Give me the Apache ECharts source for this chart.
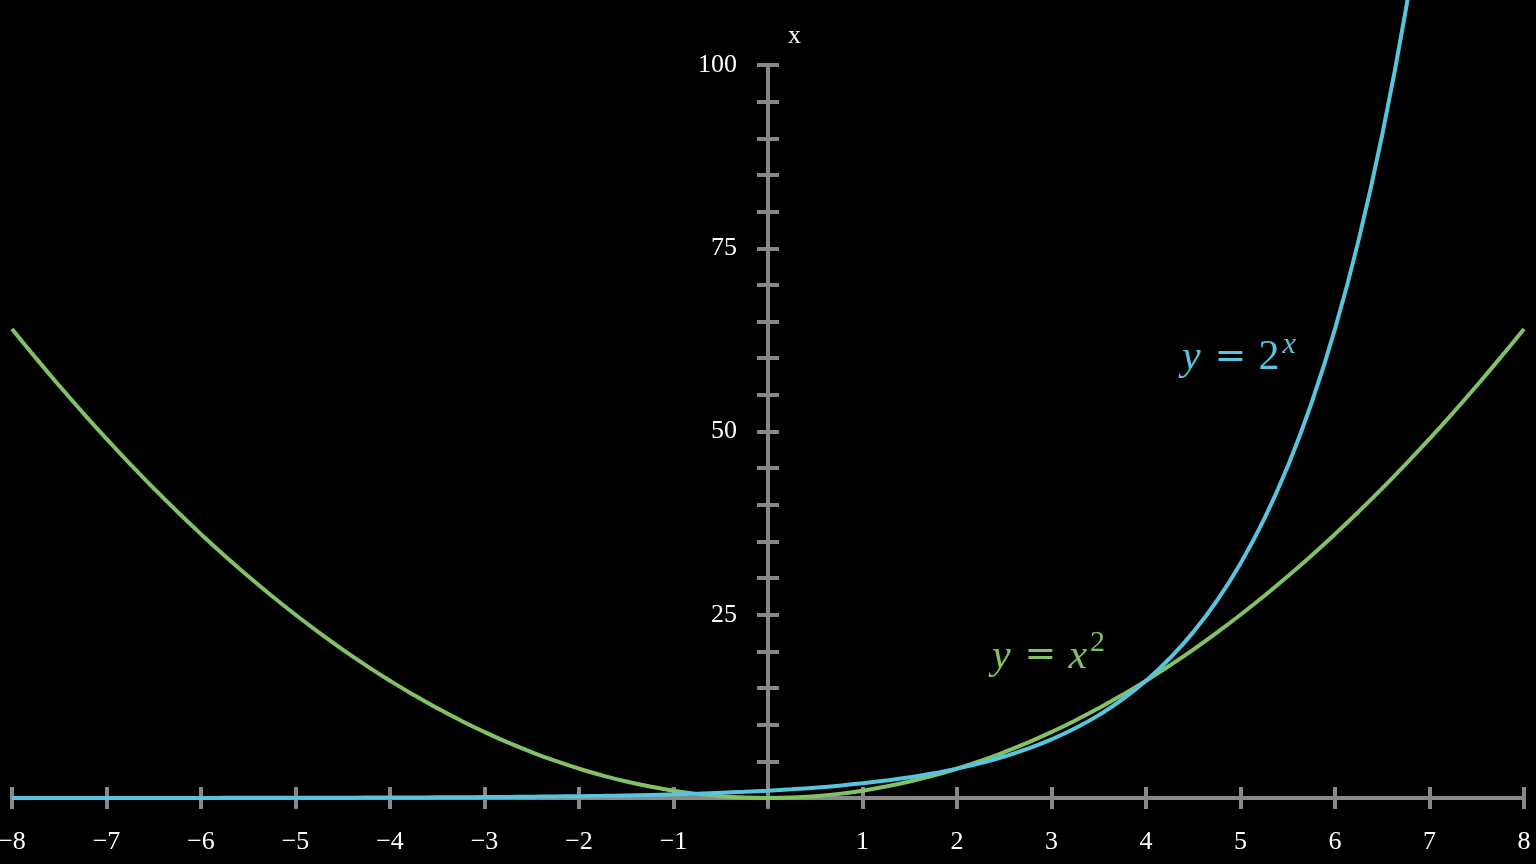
<!DOCTYPE html>
<html><head><meta charset="utf-8">
<script src="https://cdn.jsdelivr.net/npm/echarts@6/dist/echarts.min.js"></script>
<style>html,body{margin:0;padding:0;background:#000;}#c{width:1536px;height:864px;}</style>
</head><body><div id="c"></div>
<script>
const xValues = [-8,-7.75,-7.5,-7.25,-7,-6.75,-6.5,-6.25,-6,-5.75,-5.5,-5.25,-5,-4.75,-4.5,-4.25,-4,-3.75,-3.5,-3.25,-3,-2.75,-2.5,-2.25,-2,-1.75,-1.5,-1.25,-1,-0.75,-0.5,-0.25,0,0.25,0.5,0.75,1,1.25,1.5,1.75,2,2.25,2.5,2.75,3,3.25,3.5,3.75,4,4.25,4.5,4.75,5,5.25,5.5,5.75,6,6.25,6.5,6.75,7,7.25,7.5,7.75,8];
const squareValues = [64,60.0625,56.25,52.5625,49,45.5625,42.25,39.0625,36,33.0625,30.25,27.5625,25,22.5625,20.25,18.0625,16,14.0625,12.25,10.5625,9,7.5625,6.25,5.0625,4,3.0625,2.25,1.5625,1,0.5625,0.25,0.0625,0,0.0625,0.25,0.5625,1,1.5625,2.25,3.0625,4,5.0625,6.25,7.5625,9,10.5625,12.25,14.0625,16,18.0625,20.25,22.5625,25,27.5625,30.25,33.0625,36,39.0625,42.25,45.5625,49,52.5625,56.25,60.0625,64];
const expValues = [0.0039,0.0046,0.0055,0.0066,0.0078,0.0093,0.0110,0.0131,0.0156,0.0186,0.0221,0.0263,0.0313,0.0372,0.0442,0.0526,0.0625,0.0743,0.0884,0.1051,0.125,0.1487,0.1768,0.2102,0.25,0.2973,0.3536,0.4204,0.5,0.5946,0.7071,0.8409,1,1.189,1.414,1.682,2,2.378,2.828,3.364,4,4.757,5.657,6.727,8,9.514,11.31,13.45,16,19.03,22.63,26.91,32,38.05,45.25,53.82,64,76.11,90.51,107.6,128];
const xTickLabels = ['−8','−7','−6','−5','−4','−3','−2','−1','','1','2','3','4','5','6','7','8'];
const yTickLabels = {25:'25',50:'50',75:'75',100:'100'};

const AX = '#888888', BLUE = '#58C4DD', GREEN = '#83C167', SERIF = '"Liberation Serif","DejaVu Serif",serif';
const sq = xValues.map((x,i)=>[x, squareValues[i]]);
const ex = expValues.map((y,i)=>[xValues[i], y]);

function xAx(inside, main){
  return {type:'value', gridIndex:0, min:-8, max:8, interval:1, position:'bottom',
    axisLine:{show:main, onZero:false, lineStyle:{color:AX,width:4}},
    axisTick:{show:true, inside:inside, length:11, lineStyle:{color:AX,width:4}},
    axisLabel:{show:main, margin:31, color:'#fff', fontFamily:SERIF, fontSize:26, showMinLabel:true, showMaxLabel:true,
      formatter:(v)=>xTickLabels[Math.round(v)+8]},
    splitLine:{show:false}};
}
function yAx(inside, main){
  return {type:'value', gridIndex:1, min:0, max:100, interval:5, position:'left',
    name: main ? 'x' : '', nameLocation:'end', nameGap:16,
    nameTextStyle:{color:'#fff', fontFamily:SERIF, fontSize:26, align:'left', padding:[0,0,0,20]},
    axisLine:{show:main, onZero:false, lineStyle:{color:AX,width:4}},
    axisTick:{show:true, inside:inside, length:11, lineStyle:{color:AX,width:4}},
    axisLabel:{show:main, margin:31, color:'#fff', fontFamily:SERIF, fontSize:26,
      formatter:(v)=>yTickLabels[v] || ''},
    splitLine:{show:false}};
}
function richLabel(color){
  return {
    i:{fontFamily:SERIF, fontStyle:'italic', fontSize:42, color:color},
    e:{fontFamily:'"DejaVu Serif",serif', fontSize:38, color:color, padding:[0,12,0,14]},
    n:{fontFamily:SERIF, fontSize:42, color:color},
    s:{fontFamily:SERIF, fontSize:30, color:color, padding:[0,0,26,3]},
    si:{fontFamily:SERIF, fontStyle:'italic', fontSize:30, color:color, padding:[0,0,26,3]}
  };
}

const chart = echarts.init(document.getElementById('c'));
chart.setOption({
  backgroundColor:'#000',
  animation:false,
  grid:[
    {left:12, right:12, top:65, bottom:66, containLabel:false, outerBoundsMode:'none'},
    {left:768, width:10, top:65, bottom:66, containLabel:false, outerBoundsMode:'none'}
  ],
  xAxis:[xAx(false,true), xAx(true,false),
    {type:'value', gridIndex:1, min:0, max:1, show:false}],
  yAxis:[
    {type:'value', gridIndex:0, min:0, max:100, show:false},
    yAx(false,true), yAx(true,false)],
  series:[
    {type:'line', xAxisIndex:0, yAxisIndex:0, data:sq, smooth:true, showSymbol:false, clip:false, lineStyle:{color:GREEN,width:4}, z:3,
      markPoint:{symbol:'circle', symbolSize:0, data:[{coord:[2.37,19.3]}],
        label:{show:true, position:'right', distance:0, color:GREEN,
          formatter:'{i|y}{e|=}{i|x}{s|2}', rich:richLabel(GREEN)}}},
    {type:'line', xAxisIndex:0, yAxisIndex:0, data:ex, smooth:true, showSymbol:false, clip:false, lineStyle:{color:BLUE,width:4}, z:4,
      markPoint:{symbol:'circle', symbolSize:0, data:[{coord:[4.38,60.0]}],
        label:{show:true, position:'right', distance:0, color:BLUE,
          formatter:'{i|y}{e|=}{n|2}{si|x}', rich:richLabel(BLUE)}}}
  ]
});
</script></body></html>
